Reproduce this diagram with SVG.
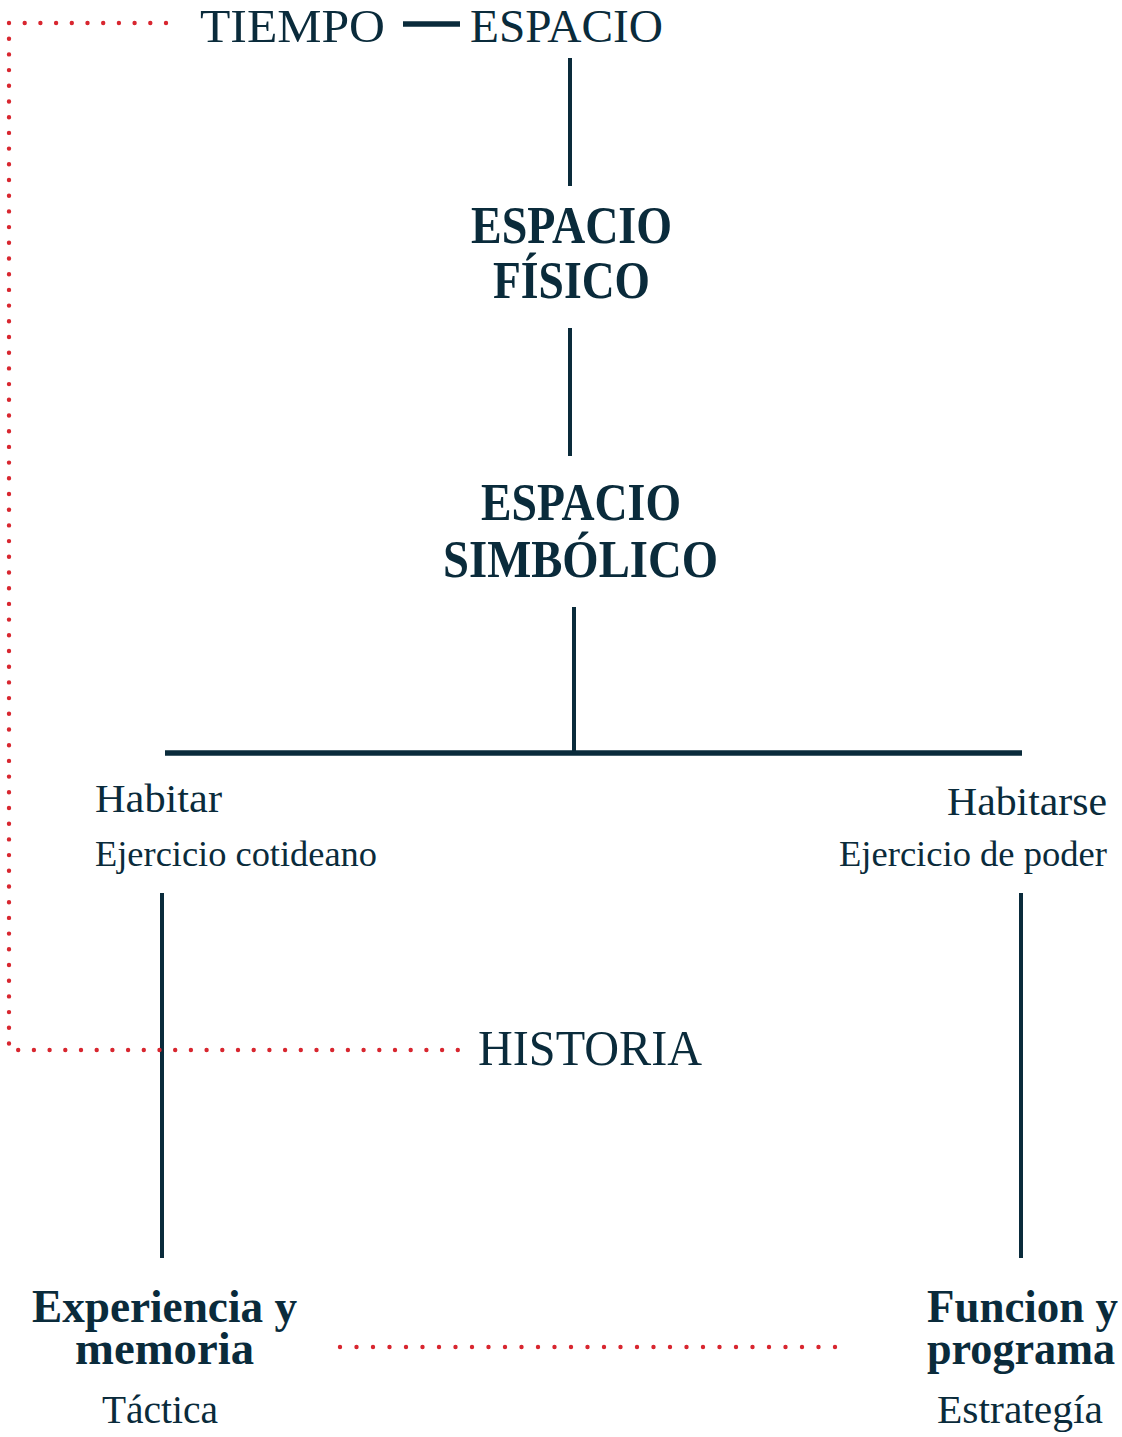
<svg xmlns="http://www.w3.org/2000/svg" width="1122" height="1437" viewBox="0 0 1122 1437">
<style>
text{font-family:"Liberation Serif","Times New Roman",serif;fill:#0a2b3b}
.b{font-weight:bold}
.ln{stroke:#0a2b3b;stroke-width:4;fill:none}
.thick{stroke-width:5.5}
.dot{stroke:#d8262f;stroke-width:4.4;stroke-linecap:round;stroke-dasharray:0 15.7;fill:none}
</style>
<rect width="1122" height="1437" fill="#ffffff"/>
<g id="connectors">
<line class="ln thick" x1="403" y1="24" x2="460" y2="24"/>
<line class="ln" x1="570" y1="58" x2="570" y2="186"/>
<line class="ln" x1="570" y1="328" x2="570" y2="456"/>
<line class="ln" x1="574" y1="607" x2="574" y2="752"/>
<line class="ln thick" x1="165" y1="753" x2="1022" y2="753"/>
<line class="ln" x1="162" y1="893" x2="162" y2="1258"/>
<line class="ln" x1="1021" y1="893" x2="1021" y2="1258"/>
<polyline class="dot" points="166,23 9,23 9,1050 466,1050"/>
<line class="dot" style="stroke-dasharray:0 16.5" x1="340" y1="1347" x2="851" y2="1347"/>
</g>
<g id="tiempo"><text x="200" y="42" font-size="47" textLength="185" lengthAdjust="spacingAndGlyphs">TIEMPO</text></g>
<g id="espacio"><text x="470" y="42" font-size="47" textLength="193" lengthAdjust="spacingAndGlyphs">ESPACIO</text></g>
<g id="espacio-fisico">
<text class="b" font-size="52"><tspan x="471" y="243" textLength="201" lengthAdjust="spacingAndGlyphs">ESPACIO</tspan><tspan x="493" y="298" textLength="157" lengthAdjust="spacingAndGlyphs">FÍSICO</tspan></text>
</g>
<g id="espacio-simbolico">
<text class="b" font-size="52"><tspan x="481" y="520" textLength="200" lengthAdjust="spacingAndGlyphs">ESPACIO</tspan><tspan x="443" y="577" textLength="275" lengthAdjust="spacingAndGlyphs">SIMBÓLICO</tspan></text>
</g>
<g id="habitar">
<text x="95" y="812" font-size="40" textLength="127" lengthAdjust="spacingAndGlyphs">Habitar</text>
<text x="95" y="866" font-size="36" textLength="282" lengthAdjust="spacingAndGlyphs">Ejercicio cotideano</text>
</g>
<g id="habitarse">
<text x="947" y="815" font-size="40" textLength="160" lengthAdjust="spacingAndGlyphs">Habitarse</text>
<text x="839" y="866" font-size="36" textLength="268" lengthAdjust="spacingAndGlyphs">Ejercicio de poder</text>
</g>
<g id="historia"><text x="478" y="1065" font-size="50" textLength="224" lengthAdjust="spacingAndGlyphs">HISTORIA</text></g>
<g id="experiencia">
<text class="b" font-size="46"><tspan x="32" y="1322" textLength="265" lengthAdjust="spacingAndGlyphs">Experiencia y</tspan><tspan x="75" y="1364" textLength="179" lengthAdjust="spacingAndGlyphs">memoria</tspan></text>
<text x="102" y="1423" font-size="41" textLength="116" lengthAdjust="spacingAndGlyphs">Táctica</text>
</g>
<g id="funcion">
<text class="b" font-size="46"><tspan x="927" y="1322" textLength="191" lengthAdjust="spacingAndGlyphs">Funcion y</tspan><tspan x="927" y="1364" textLength="188" lengthAdjust="spacingAndGlyphs">programa</tspan></text>
<text x="937" y="1423" font-size="41" textLength="166" lengthAdjust="spacingAndGlyphs">Estrategía</text>
</g>
</svg>
